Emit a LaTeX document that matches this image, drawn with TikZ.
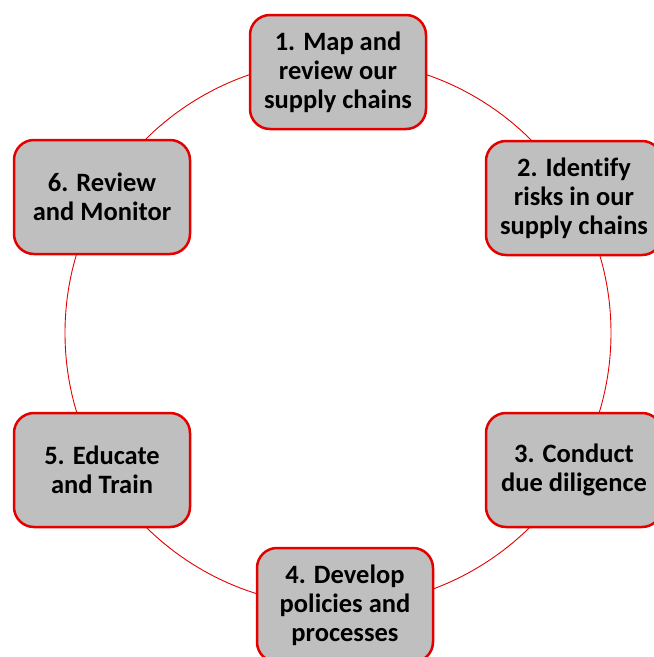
\documentclass[tikz,border=0pt]{standalone}
\usepackage{fontspec}
\setmainfont{Carlito}[Ligatures=CommonOff]
\begin{document}
\begin{tikzpicture}[x=1pt,y=-1pt,
  stepbox/.style={draw=red!90!black, line width=2.5pt, fill=gray!50, rounded corners=20pt,
    minimum width=176pt, minimum height=114pt, align=center, inner sep=0pt,
    font=\bfseries\fontsize{26.5}{29}\selectfont, text=black},
  ring/.style={draw=red!90!black, line width=0.9pt}]
\useasboundingbox (0,0) rectangle (654,657);
\begin{scope}
\clip (0,0) rectangle (654,657);
\node[circle, ring, minimum size=546pt, inner sep=0pt] (ring) at (338,333) {};
\node[stepbox] (s1) at (338,72) {1. Map and\\review our\\supply chains};
\node[stepbox] (s2) at (574,198) {2. Identify\\risks in our\\supply chains};
\node[stepbox] (s3) at (574,470) {3. Conduct\\due diligence};
\node[stepbox] (s4) at (345,605) {4. Develop\\policies and\\processes};
\node[stepbox] (s5) at (102,470) {5. Educate\\and Train};
\node[stepbox] (s6) at (102,197) {6. Review\\and Monitor};
\end{scope}
\end{tikzpicture}
\end{document}
